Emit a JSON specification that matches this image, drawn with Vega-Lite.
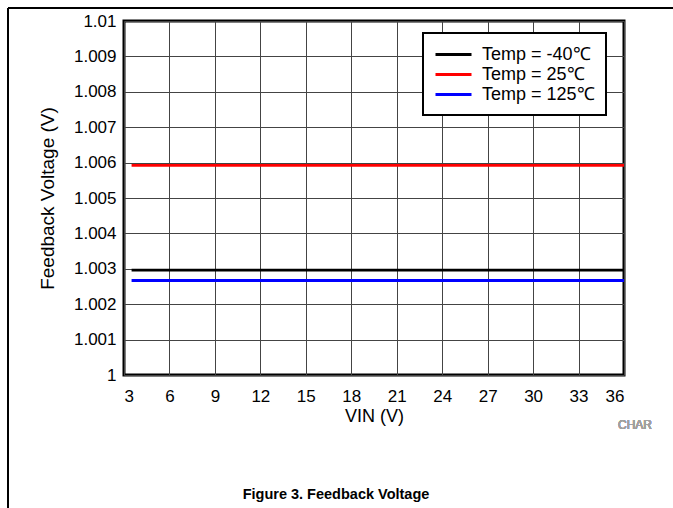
{
  "$schema": "https://vega.github.io/schema/vega-lite/v6.json",
  "autosize": "none",
  "width": 500,
  "height": 354,
  "padding": {"left": 124, "top": 21, "right": 49, "bottom": 133},
  "background": "white",
  "title": {
    "text": "Figure 3. Feedback Voltage",
    "orient": "bottom",
    "anchor": "middle",
    "dx": -38,
    "offset": -21,
    "font": "Liberation Sans",
    "fontSize": 14.5,
    "fontWeight": "bold",
    "color": "black"
  },
  "data": {
    "values": [
      {"vin": 3.5, "v": 1.00296, "temp": "Temp = -40℃"},
      {"vin": 12, "v": 1.00296, "temp": "Temp = -40℃"},
      {"vin": 24, "v": 1.00296, "temp": "Temp = -40℃"},
      {"vin": 36, "v": 1.00296, "temp": "Temp = -40℃"},
      {"vin": 3.5, "v": 1.00592, "temp": "Temp = 25℃"},
      {"vin": 12, "v": 1.00592, "temp": "Temp = 25℃"},
      {"vin": 24, "v": 1.00592, "temp": "Temp = 25℃"},
      {"vin": 36, "v": 1.00592, "temp": "Temp = 25℃"},
      {"vin": 3.5, "v": 1.00267, "temp": "Temp = 125℃"},
      {"vin": 12, "v": 1.00267, "temp": "Temp = 125℃"},
      {"vin": 24, "v": 1.00267, "temp": "Temp = 125℃"},
      {"vin": 36, "v": 1.00267, "temp": "Temp = 125℃"}
    ]
  },
  "layer": [
    {
      "mark": {"type": "line", "strokeWidth": 2.8, "clip": true},
      "encoding": {
        "x": {
          "field": "vin",
          "type": "quantitative",
          "scale": {"domain": [3, 36], "nice": false, "zero": false},
          "axis": {
            "title": "VIN (V)",
            "values": [3, 6, 9, 12, 15, 18, 21, 24, 27, 30, 33, 36],
            "tickCount": 12,
            "labelFontSize": 17,
            "titleFontSize": 18,
            "labelPadding": 13,
            "titlePadding": 3,
            "labelOverlap": false
          }
        },
        "y": {
          "field": "v",
          "type": "quantitative",
          "scale": {"domain": [1, 1.01], "nice": false, "zero": false},
          "axis": {
            "title": "Feedback Voltage (V)",
            "values": [1, 1.001, 1.002, 1.003, 1.004, 1.005, 1.006, 1.007, 1.008, 1.009, 1.01],
            "tickCount": 11,
            "labelExpr": "format(datum.value, '~g')",
            "labelFontSize": 17,
            "titleFontSize": 19,
            "labelPadding": 8,
            "titlePadding": 16,
            "labelOverlap": false
          }
        },
        "color": {
          "field": "temp",
          "type": "nominal",
          "sort": ["Temp = -40℃", "Temp = 25℃", "Temp = 125℃"],
          "scale": {
            "domain": ["Temp = -40℃", "Temp = 25℃", "Temp = 125℃"],
            "range": ["#000000", "#ff0000", "#0000ff"]
          },
          "legend": {
            "title": null,
            "orient": "none",
            "legendX": 299,
            "legendY": 12,
            "symbolType": "M-1,0H3",
            "symbolSize": 324,
            "symbolStrokeWidth": 3,
            "labelFontSize": 18,
            "labelOffset": 27,
            "rowPadding": 0,
            "padding": 11,
            "strokeColor": "black",
            "fillColor": "white"
          }
        }
      }
    },
    {
      "mark": {"type": "rule", "clip": false, "color": "black", "strokeWidth": 2},
      "encoding": {
        "x": {"datum": -4.656},
        "y": {"datum": 0.99623},
        "y2": {"datum": 1.010367}
      }
    },
    {
      "mark": {"type": "rule", "clip": false, "color": "black", "strokeWidth": 2},
      "encoding": {
        "x": {"datum": -4.656},
        "x2": {"datum": 39.3},
        "y": {"datum": 1.010367}
      }
    },
    {
      "mark": {"type": "text", "clip": false, "text": "CHAR", "align": "right", "baseline": "middle", "dx": 28, "dy": 50, "fontSize": 12, "fontWeight": "normal", "color": "#a0a0a0", "font": "Liberation Sans"},
      "encoding": {
        "x": {"datum": 36},
        "y": {"datum": 1}
      }
    }
  ],
  "config": {
    "font": "Liberation Sans",
    "view": {"stroke": "black", "strokeWidth": 3},
    "axis": {
      "grid": true,
      "gridColor": "#444444",
      "gridWidth": 1,
      "gridOpacity": 1,
      "domain": false,
      "ticks": false,
      "labelOverlap": false,
      "labelColor": "black",
      "titleColor": "black",
      "titleFontWeight": "normal",
      "labelFont": "Liberation Sans",
      "titleFont": "Liberation Sans"
    },
    "legend": {
      "strokeWidth": 2,
      "labelFont": "Liberation Sans",
      "labelColor": "black"
    }
  }
}
